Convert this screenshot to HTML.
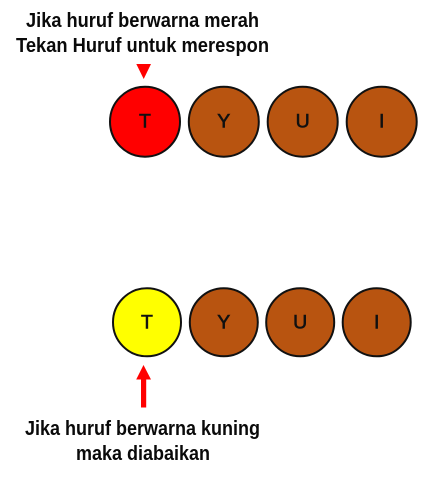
<!DOCTYPE html>
<html>
<head>
<meta charset="utf-8">
<style>
html,body{margin:0;padding:0;background:#fff;width:435px;height:479px;overflow:hidden}
svg{display:block}
.cap{font-family:"Liberation Sans",sans-serif;font-weight:700;font-size:20px;fill:#0a0a0a}
.key{font-family:"Liberation Sans",sans-serif;font-size:19.5px;fill:#111;stroke:#111;stroke-width:.6px;text-anchor:middle}
circle{stroke:#111;stroke-width:2}
</style>
</head>
<body>
<svg width="435" height="479" viewBox="0 0 435 479">
  <text class="cap" x="26" y="27" textLength="233" lengthAdjust="spacingAndGlyphs">Jika huruf berwarna merah</text>
  <text class="cap" x="16" y="52" textLength="253" lengthAdjust="spacingAndGlyphs">Tekan Huruf untuk merespon</text>
  <polygon points="136.3,64 151,64 143.7,79" fill="#ff0000"/>

  <g>
    <circle cx="145" cy="121.7" r="35" fill="#ff0000"/>
    <text class="key" x="145" y="127.5">T</text>
    <circle cx="223.8" cy="121.7" r="35" fill="#b85410"/>
    <text class="key" x="223.8" y="127.5">Y</text>
    <circle cx="302.7" cy="121.7" r="35" fill="#b85410"/>
    <text class="key" x="302.7" y="127.5">U</text>
    <circle cx="381.7" cy="121.7" r="35" fill="#b85410"/>
    <text class="key" x="381.7" y="127.5">I</text>
  </g>

  <g>
    <circle cx="147" cy="322.3" r="34" fill="#ffff00"/>
    <text class="key" x="147" y="328.3">T</text>
    <circle cx="223.8" cy="322.3" r="34" fill="#b85410"/>
    <text class="key" x="223.8" y="328.3">Y</text>
    <circle cx="300.2" cy="322.3" r="34" fill="#b85410"/>
    <text class="key" x="300.2" y="328.3">U</text>
    <circle cx="376.7" cy="322.3" r="34" fill="#b85410"/>
    <text class="key" x="376.7" y="328.3">I</text>
  </g>

  <polygon points="143.5,365 151,379.5 146.2,379.5 146.2,407.5 141,407.5 141,379.5 136.2,379.5" fill="#ff0000"/>
  <text class="cap" x="25" y="435" textLength="235" lengthAdjust="spacingAndGlyphs">Jika huruf berwarna kuning</text>
  <text class="cap" x="76" y="460" textLength="134" lengthAdjust="spacingAndGlyphs">maka diabaikan</text>
</svg>
</body>
</html>
